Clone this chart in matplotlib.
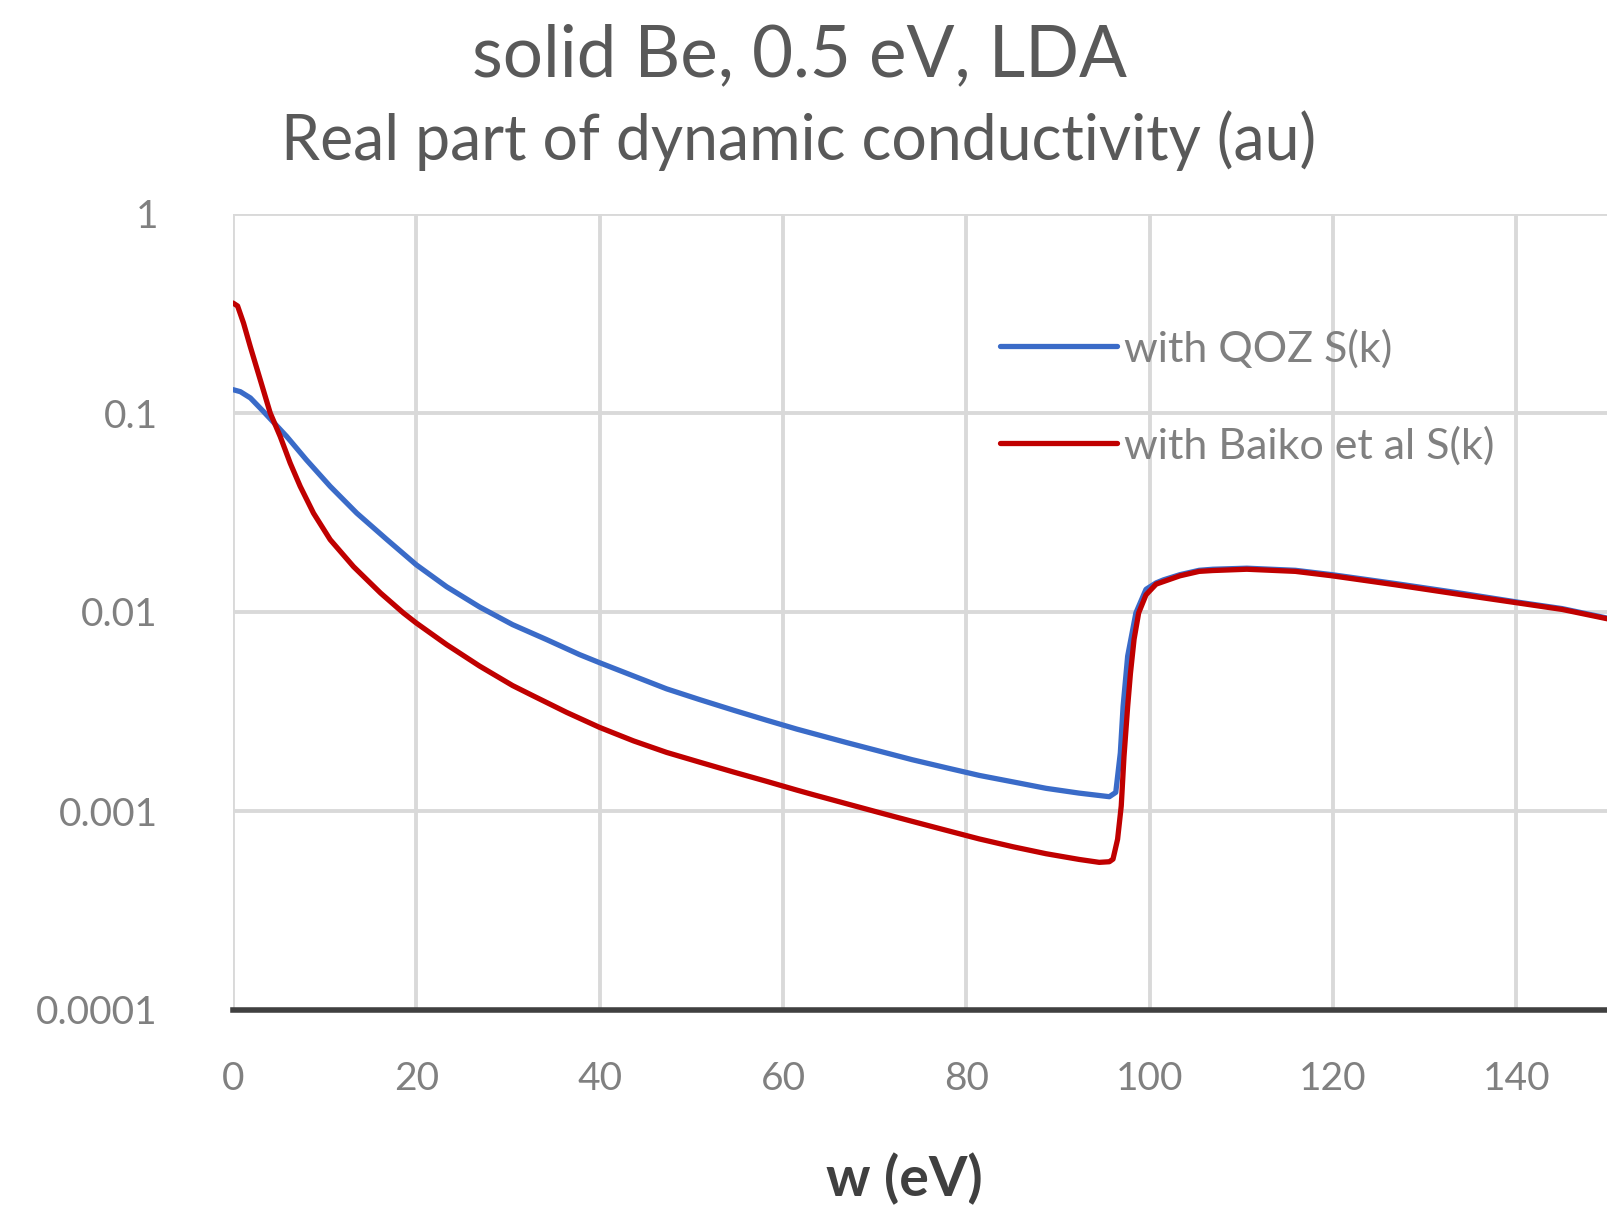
import matplotlib.pyplot as plt
from matplotlib.ticker import FixedLocator, FixedFormatter

plt.rcParams['font.family'] = ['Lato', 'DejaVu Sans']

# photon energy w (eV) and real part of conductivity (au), two S(k) models
w_qoz = [0, 0.8, 1.9, 3.3, 5.85, 8.0, 10.6, 13.5, 16.8, 20.0, 23.3, 26.9, 30.5,
         34.2, 37.8, 40, 43.7, 47.3, 50.9, 54.6, 58.2, 61.5, 63.3, 66.9, 70.5,
         74.1, 77.8, 81.4, 85.1, 88.7, 92.3, 95.6, 96.3, 96.8, 97.1, 97.6,
         98.5, 99.6, 100.7, 101.5, 103.3, 105.4, 106.9, 110.6, 115.9, 119.9,
         126.8, 134.1, 140.2, 145.0, 150.0]
sig_qoz = [0.131, 0.128, 0.119, 0.102, 0.0763, 0.0582, 0.0428, 0.0314, 0.0231,
           0.01726, 0.0134, 0.0106, 0.00864, 0.00727, 0.00611, 0.00556,
           0.00477, 0.00411, 0.00363, 0.00321, 0.00286, 0.00258, 0.00245,
           0.00221, 0.0020, 0.00181, 0.00165, 0.00151, 0.0014, 0.0013, 0.00123,
           0.00118, 0.00124, 0.00196, 0.00335, 0.0060, 0.0099, 0.0130, 0.0140,
           0.0145, 0.0154, 0.0162, 0.0164, 0.0166, 0.0162, 0.0154, 0.0139,
           0.0124, 0.0112, 0.0104, 0.0093]

w_baiko = [0, 0.5, 1.15, 1.88, 2.97, 4.06, 5.15, 6.24, 7.33, 8.78, 10.6, 13.15,
           16.1, 18.6, 20.0, 23.3, 26.9, 30.5, 32.7, 36.4, 40, 43.7, 47.3,
           50.9, 54.6, 58.2, 61.5, 63.3, 66.9, 70.5, 74.1, 77.8, 81.4, 85.1,
           88.7, 92.3, 94.5, 95.6, 96.0, 96.5, 96.9, 97.2, 97.6, 97.9, 98.3,
           98.8, 99.6, 100.7, 101.5, 103.3, 105.4, 106.9, 110.6, 115.9, 119.9,
           126.8, 134.1, 140.2, 145.0, 150.0]
sig_baiko = [0.357, 0.345, 0.283, 0.216, 0.147, 0.100, 0.0762, 0.056, 0.0428,
             0.0314, 0.0231, 0.0169, 0.01245, 0.00988, 0.0088, 0.00686,
             0.00535, 0.00427, 0.0038, 0.00313, 0.00263, 0.00225, 0.00197,
             0.00176, 0.00157, 0.00141, 0.001274, 0.001208, 0.001089,
             0.000982, 0.000887, 0.0008, 0.000724, 0.000661, 0.00061,
             0.000571, 0.000552, 0.000556, 0.000573, 0.000721, 0.00106,
             0.00188, 0.00335, 0.0049, 0.0073, 0.0099, 0.0122, 0.0138, 0.01422,
             0.0152, 0.0160, 0.01616, 0.0164, 0.0160, 0.0152, 0.0137, 0.0122,
             0.0111, 0.0103, 0.00923]

x_ticks = [0, 20, 40, 60, 80, 100, 120, 140]
y_ticks = [0.0001, 0.001, 0.01, 0.1, 1]
y_labels = ['0.0001', '0.001', '0.01', '0.1', '1']

fig = plt.figure(figsize=(16.08, 12.07), dpi=100)
ax = fig.add_axes([233 / 1608, 1 - 1010 / 1207, 1 - 233 / 1608, (1010 - 214) / 1207])

ax.plot(w_qoz, sig_qoz, color='#3A6BC8', lw=3.8, solid_joinstyle='round',
        solid_capstyle='round', label='with QOZ S(k)')
ax.plot(w_baiko, sig_baiko, color='#C00000', lw=3.8, solid_joinstyle='round',
        solid_capstyle='round', label='with Baiko et al S(k)')

ax.set_yscale('log')
ax.set_xlim(0, 150)
ax.set_ylim(0.0001, 1)
ax.xaxis.set_major_locator(FixedLocator(x_ticks))
ax.yaxis.set_major_locator(FixedLocator(y_ticks))
ax.yaxis.set_major_formatter(FixedFormatter(y_labels))
ax.yaxis.set_minor_locator(FixedLocator([]))

ax.grid(True, color='#D9D9D9', lw=2.8)
ax.set_axisbelow(True)
for s in ['left', 'right', 'top']:
    ax.spines[s].set_visible(False)
ax.spines['bottom'].set_color('#404040')
ax.spines['bottom'].set_linewidth(4)
ax.spines['bottom'].set_zorder(3)

ax.tick_params(length=0, labelsize=28, labelcolor='#808080')
ax.tick_params(axis='y', pad=54)
ax.tick_params(axis='x', pad=37)

fig.text(800 / 1608, 1 - 56 / 1207, 'solid Be, 0.5 eV, LDA', ha='center',
         va='center', fontsize=51, color='#595959')
fig.text(799 / 1608, 1 - 141 / 1207, 'Real part of dynamic conductivity (au)',
         ha='center', va='center', fontsize=45, color='#595959')
fig.text(904 / 1608, 1 - 1179 / 1207, 'w (eV)', ha='center', va='center',
         fontsize=40, fontweight='bold', color='#404040')

ax.legend(loc='upper left', bbox_to_anchor=(1000 / 1608, 1 - 329 / 1207),
          bbox_transform=fig.transFigure, frameon=False, fontsize=31,
          handlelength=2.72, handletextpad=0.16, labelspacing=1.34,
          borderpad=0, borderaxespad=0, labelcolor='#808080')

fig.savefig('out.png', dpi=100)
